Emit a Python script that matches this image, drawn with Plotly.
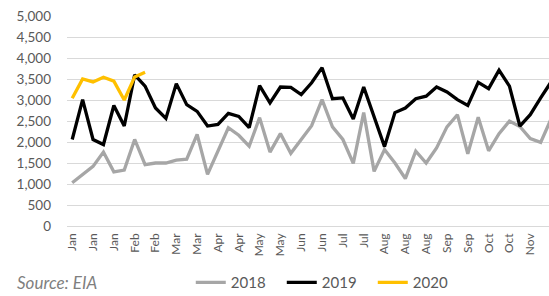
import plotly.graph_objects as go

# Weekly data (index = week of year)
series_2018 = [1030, 1230, 1420, 1760, 1290, 1330, 2060, 1460, 1500, 1500, 1570, 1590,
               2180, 1230, 1780, 2340, 2160, 1900, 2580, 1760, 2200, 1730, 2060, 2390,
               3010, 2360, 2060, 1490, 2700, 1300, 1820, 1500, 1130, 1780, 1500, 1860,
               2360, 2650, 1720, 2590, 1790, 2200, 2500, 2370, 2080, 1990, 2550]
series_2019 = [2060, 3010, 2060, 1940, 2870, 2380, 3600, 3330, 2810, 2560, 3390, 2890,
               2730, 2380, 2420, 2680, 2610, 2340, 3340, 2930, 3310, 3300, 3130, 3410,
               3770, 3030, 3050, 2550, 3310, 2600, 1890, 2700, 2810, 3030, 3090, 3310,
               3190, 3010, 2870, 3420, 3270, 3710, 3330, 2380, 2650, 3050, 3430]
series_2020 = [3040, 3500, 3430, 3540, 3450, 3000, 3550, 3660]

tick_labels = ["Jan", "Jan", "Jan", "Feb", "Feb", "Mar", "Mar", "Apr", "Apr", "May",
               "May", "Jun", "Jun", "Jul", "Jul", "Aug", "Aug", "Aug", "Sep", "Sep",
               "Oct", "Oct", "Nov", "Nov"]
tick_positions = [2 * i for i in range(len(tick_labels))]

font_family = "Lato, 'Open Sans', sans-serif"

fig = go.Figure()
for name, vals, color in [("2018", series_2018, "#a6a6a6"),
                          ("2019", series_2019, "#000000"),
                          ("2020", series_2020, "#ffc000")]:
    fig.add_trace(go.Scatter(x=list(range(len(vals))), y=vals, mode="lines",
                             name=name, line=dict(color=color, width=3.3),
                             hoverinfo="skip"))

fig.update_layout(
    width=549, height=296,
    margin=dict(l=67, r=0, t=16, b=70, autoexpand=False),
    paper_bgcolor="white", plot_bgcolor="white",
    font=dict(family=font_family, color="#595959"),
    showlegend=True,
    legend=dict(orientation="h", x=0.54, xanchor="center", y=-0.27, yanchor="middle",
                entrywidth=46, entrywidthmode="pixels",
                font=dict(size=15, color="#595959"), bgcolor="rgba(0,0,0,0)"),
    annotations=[dict(text="Source: EIA", xref="paper", yref="paper", x=-0.108, y=-0.27,
                      xanchor="left", yanchor="middle", showarrow=False,
                      font=dict(size=17, color="#7f7f7f", style="italic"))],
)
fig.update_xaxes(range=[-0.5, 45.8], tickvals=tick_positions, ticktext=tick_labels,
                 tickangle=-90, tickfont=dict(size=12, color="#595959"),
                 showgrid=False, zeroline=False, showline=False, ticks="",
                 ticklabelstandoff=4, automargin=False, ticklabeloverflow="allow")
fig.update_yaxes(range=[0, 5000], dtick=500, tickformat=",",
                 tickfont=dict(size=13.5, color="#595959"),
                 showgrid=True, gridcolor="#d9d9d9", gridwidth=1,
                 zeroline=True, zerolinecolor="#d9d9d9", zerolinewidth=1,
                 showline=False, ticks="", ticklabelstandoff=15, automargin=False,
                 ticklabeloverflow="allow")

fig.write_html("out.html",
               config={"displayModeBar": False},
               post_script="document.body.style.margin='0';"
                           "document.body.style.overflow='hidden';")
